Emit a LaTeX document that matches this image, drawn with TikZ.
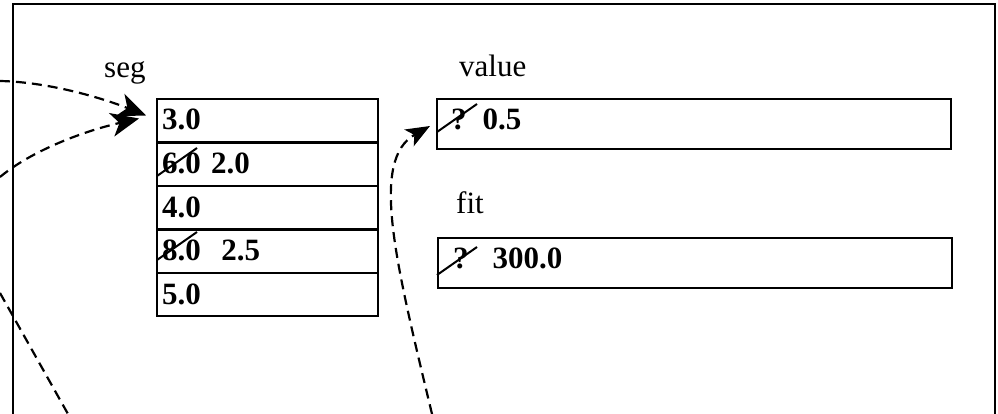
\documentclass[tikz,border=0pt]{standalone}
\usepackage{fontspec}
\setmainfont{Liberation Serif}
\usetikzlibrary{arrows.meta}
\newcommand{\figsize}{\fontsize{31}{37}\selectfont}
\tikzset{
	segbox/.style={draw, line width=2pt, anchor=north west, minimum width=221pt, minimum height=43pt, inner xsep=5pt, inner ysep=2pt, text width=211pt, align=left, text height=22pt, text depth=3pt, font=\figsize\bfseries},
	valbox/.style={segbox, minimum width=514pt, minimum height=50pt, text width=504pt, text depth=11pt},
	lab/.style={anchor=base west, inner sep=0pt},
	ptr/.style={line width=2.2pt, dash pattern=on 10pt off 6pt},
	ptrhead/.style={-{Stealth[length=28pt,width=24pt,inset=8pt]}}
}
\begin{document}
\begin{tikzpicture}[x=1pt, y=-1pt, font=\figsize]
		\useasboundingbox (0,0) rectangle (998,414);
		\draw[line width=2.2pt] (13,414) -- (13,4) -- (995,4) -- (995,414);
		
		\node[lab] (seglab) at (104,78) {seg};
		\node[lab] (vallab) at (459,77) {value};
		\node[lab] (fitlab) at (456,213) {fit};
		
		\foreach \v [count=\i] in {3.0, 6.0 2.0, 4.0, 8.0\ \ 2.5, 5.0}{
			\node[segbox] (seg\i) at (156,{98+(\i-1)*43.6}) {\v};
		}
		\node[valbox] (value) at (436,98) {\hspace*{9pt}?\hspace{16pt}0.5};
		\node[valbox] (fit) at (437,237) {\hspace*{10pt}?\hspace{24pt}300.0};
		
		% crossed out values
		\foreach \a/\b in {157/176, 157/260, 437/132, 437/275}{
			\draw[line width=2pt] (\a,\b) -- ++(40,-28);
		}
		
		\coordinate (inA) at (0,81);
		\coordinate (inB) at (0,177);
		\coordinate (inC) at (0,293);
		\coordinate (outC) at (68,414);
		\coordinate (inD) at (432,414);
		
		\draw[ptr, ptrhead] (inA) .. controls (50,82) and (105,99) .. ([xshift=-10pt, yshift=5pt]seg1.west);
		\draw[ptr, ptrhead] (inB) .. controls (30,152) and (80,132) .. ([xshift=-17pt, yshift=2pt]seg1.west);
		\draw[ptr] (inC) -- (outC);
		\draw[ptr, -{Stealth[length=24pt,width=19pt,inset=6pt]}] (inD) .. controls (395,260) and (370,160) .. ([xshift=-6pt, yshift=-2pt]value.west);
		%\draw[dashed] (inC) .. controls (20,330) .. (outC);
\end{tikzpicture}
\end{document}
